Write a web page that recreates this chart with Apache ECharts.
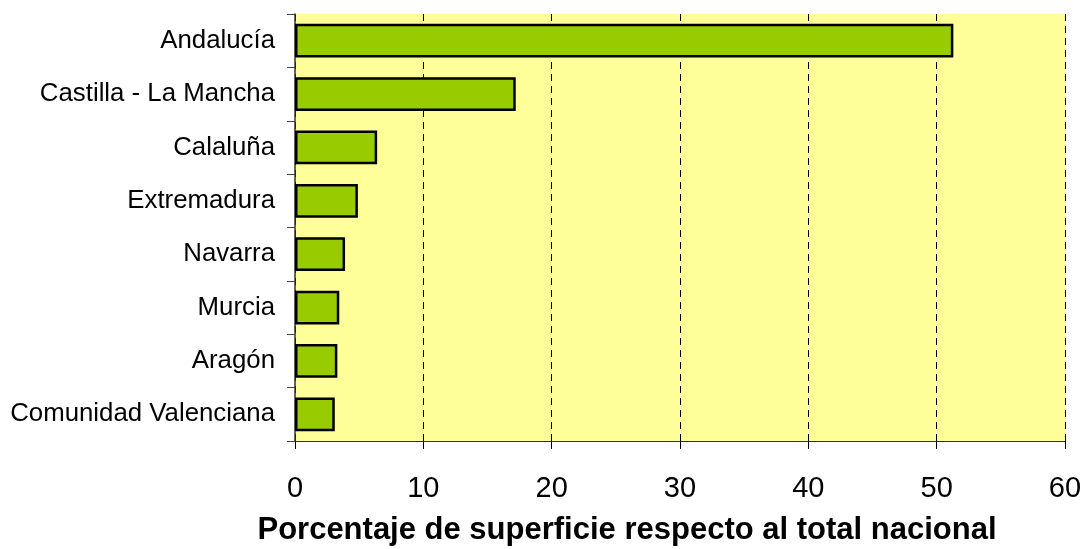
<!DOCTYPE html>
<html>
<head>
<meta charset="utf-8">
<script src="https://cdn.jsdelivr.net/npm/echarts@6/dist/echarts.min.js"></script>
<style>
    html, body { margin: 0; padding: 0; background: #fff; }
    #main { width: 1085px; height: 549px; }
</style>
</head>
<body>
<div id="main"></div>
<script>
    // datos
    var regiones = ['Andalucía', 'Castilla - La Mancha', 'Calaluña', 'Extremadura',
                    'Navarra', 'Murcia', 'Aragón', 'Comunidad Valenciana'];
    var porcentajes = [51.3, 17.2, 6.4, 4.9, 3.9, 3.45, 3.3, 3.1];
    var ejeMin = 0;
    var ejeMax = 60;
    var ejePaso = 10;
    var tituloEje = 'Porcentaje de superficie respecto al total nacional';

    var myChart = echarts.init(document.getElementById('main'));
    myChart.setOption({
        animation: false,
        textStyle: { fontFamily: 'Liberation Sans, Arial, sans-serif' },
        grid: {
            left: 295, right: 20, top: 14, bottom: 108,
            containLabel: false, outerBoundsMode: 'none',
            show: true, backgroundColor: '#FFFF99', borderWidth: 0
        },
        xAxis: {
            type: 'value',
            min: ejeMin, max: ejeMax, interval: ejePaso,
            name: tituloEje,
            nameLocation: 'middle',
            nameGap: 74,
            nameTextStyle: { fontSize: 31, fontWeight: 'bold', color: '#000', padding: [0, 106, 0, 0] },
            axisLine: { show: true, lineStyle: { color: '#333', width: 1 } },
            axisTick: { show: true, length: 8, lineStyle: { color: '#000' } },
            axisLabel: { fontSize: 29, color: '#000', margin: 33 },
            splitLine: { show: true, lineStyle: { color: '#000', type: [7, 5], width: 1 } }
        },
        yAxis: {
            type: 'category',
            data: regiones,
            inverse: true,
            axisLine: { show: true, lineStyle: { color: '#333', width: 1.5 } },
            axisTick: { show: true, length: 8, alignWithLabel: false, lineStyle: { color: '#444' } },
            axisLabel: { fontSize: 25.8, color: '#000', margin: 20 },
            splitLine: { show: false }
        },
        series: [{
            type: 'bar',
            data: porcentajes,
            barCategoryGap: '37%',
            itemStyle: { color: '#99CC00', borderColor: '#000', borderWidth: 2.5 }
        }]
    });
    window.onresize = myChart.resize;
</script>
</body>
</html>
